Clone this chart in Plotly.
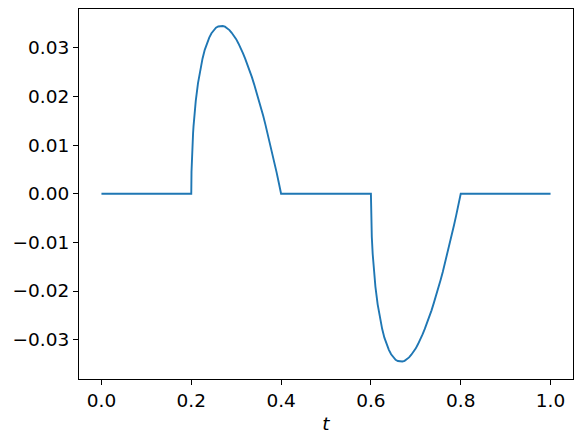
import plotly.graph_objects as go

# values
pulse_t = [0.0, 0.0005, 0.001, 0.002, 0.004, 0.005, 0.007, 0.01, 0.015, 0.02,
           0.025, 0.03, 0.035, 0.04, 0.045, 0.05, 0.055, 0.06, 0.0667, 0.07,
           0.075, 0.08, 0.085, 0.09, 0.095, 0.10, 0.105, 0.11, 0.115, 0.12,
           0.125, 0.13, 0.135, 0.14, 0.145, 0.15, 0.155, 0.16, 0.165, 0.17,
           0.175, 0.18, 0.185, 0.19, 0.195, 0.2]

pulse = [0.0, 0.0045, 0.0063, 0.0089, 0.01245, 0.01385, 0.0162, 0.0191,
         0.02275, 0.0256, 0.02778, 0.0296, 0.03099, 0.0321, 0.03301, 0.0337,
         0.03414, 0.0344, 0.03456, 0.0345, 0.03437, 0.0341, 0.03366, 0.0331,
         0.03249, 0.0318, 0.03091, 0.0300, 0.02894, 0.0278, 0.02662, 0.0253,
         0.02398, 0.0225, 0.02103, 0.0194, 0.01779, 0.0161, 0.01427, 0.0124,
         0.0105, 0.0085, 0.00648, 0.0044, 0.00222, 0.0]

pulse_starts = [0.2, 0.6]
pulse_signs = [1, -1]

t = [0.0]
y = [0.0]
for start, sign in zip(pulse_starts, pulse_signs):
    t += [start + dt for dt in pulse_t]
    y += [sign * v for v in pulse]
t.append(1.0)
y.append(0.0)

x_ticks = [0.0, 0.2, 0.4, 0.6, 0.8, 1.0]
y_ticks = [-0.03, -0.02, -0.01, 0.0, 0.01, 0.02, 0.03]

fig = go.Figure()
fig.add_trace(go.Scatter(
    x=t, y=y, mode="lines",
    line=dict(color="#1f77b4", width=1.9),
    showlegend=False,
))

font = dict(family="DejaVu Sans", size=18.5, color="black")
axis_style = dict(
    showline=True, linecolor="black", linewidth=1, mirror=True,
    ticks="outside", ticklen=5, tickcolor="black", tickwidth=1,
    showgrid=False, zeroline=False, automargin=False,
    tickfont=font,
)

fig.update_xaxes(
    range=[-0.05, 1.05], tickvals=x_ticks, tickformat=".1f",
    title=dict(text="<i>t</i>", font=font, standoff=6),
    **axis_style,
)
fig.update_yaxes(
    range=[-0.0381, 0.0380], tickvals=y_ticks, tickformat=".2f",
    **axis_style,
)

fig.update_layout(
    width=585, height=442,
    margin=dict(l=79, r=12, t=9, b=63),
    plot_bgcolor="white", paper_bgcolor="white",
)

# drop the browser's default body margin so the figure sits at the page corner
fig.write_html(
    "out.html",
    config={"displayModeBar": False},
    post_script="document.body.style.margin = '0';",
)
